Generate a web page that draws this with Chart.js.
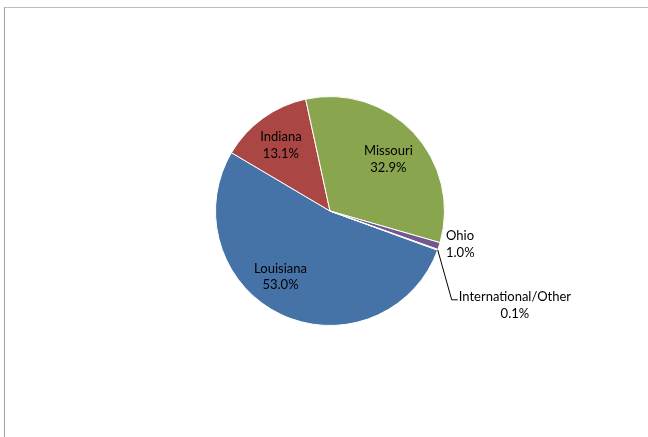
<!DOCTYPE html>
<html>
<head>
<meta charset="utf-8">
<script src="https://cdn.jsdelivr.net/npm/chart.js@4/dist/chart.umd.min.js"></script>
<style>
  html, body { margin: 0; padding: 0; background: #fff; }
  #wrap { width: 648px; height: 437px; position: relative; }
</style>
</head>
<body>
<div id="wrap"><canvas id="c" width="648" height="437"></canvas></div>
<script>
// Share by state
const categories = ['Louisiana', 'Indiana', 'Missouri', 'Ohio', 'International/Other'];
const shares = [53.0, 13.1, 32.9, 1.0, 0.1];
const sliceColors = ['#4572A7', '#AA4643', '#89A54E', '#71588F', '#DB843D'];

// Label placement per slice: inside labels sit along the slice's mid angle,
// the two small slices get labels outside the pie.
const labelLayout = [
  { mode: 'inside', ratio: 0.72, shiftDeg: 11.6 },
  { mode: 'inside', ratio: 0.715, shiftDeg: -1 },
  { mode: 'inside', ratio: 0.68, shiftDeg: 1.7 },
  { mode: 'outside', dx: 7, dy: -2 },
  { mode: 'leader', bend: [14, 50], run: 6 }
];

const FONT = '13px Lato, "Open Sans", sans-serif';
const LINE_H = 16.5;

const frame = {
  id: 'frame',
  beforeDraw(chart) {
    const ctx = chart.ctx;
    ctx.save();
    ctx.lineWidth = 1;
    ctx.strokeStyle = '#BDBDBD';
    ctx.beginPath();
    ctx.moveTo(4, 7.5);
    ctx.lineTo(648, 7.5);
    ctx.stroke();
    ctx.strokeStyle = '#A0A0A0';
    ctx.beginPath();
    ctx.moveTo(4.5, 7);
    ctx.lineTo(4.5, 437);
    ctx.stroke();
    ctx.restore();
  }
};

const sliceLabels = {
  id: 'sliceLabels',
  afterDatasetsDraw(chart) {
    const ctx = chart.ctx;
    const meta = chart.getDatasetMeta(0);
    const total = shares.reduce((a, b) => a + b, 0);
    ctx.save();
    ctx.font = FONT;
    ctx.fillStyle = '#000';
    ctx.textBaseline = 'middle';
    meta.data.forEach((arc, i) => {
      const p = arc.getProps(['x', 'y', 'startAngle', 'endAngle', 'outerRadius'], true);
      const mid = (p.startAngle + p.endAngle) / 2;
      const lines = [categories[i], shares[i].toFixed(1) + '%'];
      const lay = labelLayout[i];
      if (lay.mode === 'inside') {
        const a = mid + lay.shiftDeg * Math.PI / 180;
        const r = p.outerRadius * lay.ratio;
        const cx = p.x + Math.cos(a) * r;
        const cy = p.y + Math.sin(a) * r;
        ctx.textAlign = 'center';
        ctx.fillText(lines[0], cx, cy - LINE_H / 2);
        ctx.fillText(lines[1], cx, cy + LINE_H / 2);
      } else {
        const ex = p.x + Math.cos(mid) * p.outerRadius;
        const ey = p.y + Math.sin(mid) * p.outerRadius;
        if (lay.mode === 'outside') {
          ctx.textAlign = 'left';
          const lx = ex + lay.dx, cy = ey + lay.dy;
          ctx.fillText(lines[0], lx, cy - LINE_H / 2);
          ctx.fillText(lines[1], lx, cy + LINE_H / 2);
        } else {
          const bx = ex + lay.bend[0], by = ey + lay.bend[1];
          const hx = bx + lay.run;
          ctx.strokeStyle = '#000';
          ctx.lineWidth = 1;
          ctx.beginPath();
          ctx.moveTo(ex, ey);
          ctx.lineTo(bx, by);
          ctx.lineTo(hx, by);
          ctx.stroke();
          const w = Math.max(ctx.measureText(lines[0]).width, ctx.measureText(lines[1]).width);
          const cx = hx + 1 + w / 2;
          ctx.textAlign = 'center';
          ctx.fillText(lines[0], cx, by - 3);
          ctx.fillText(lines[1], cx, by - 3 + LINE_H);
        }
      }
    });
    ctx.restore();
  }
};

new Chart(document.getElementById('c'), {
  type: 'pie',
  data: {
    labels: categories,
    datasets: [{
      data: shares,
      backgroundColor: sliceColors,
      borderColor: '#FFFFFF',
      borderWidth: 1
    }]
  },
  options: {
    responsive: false,
    animation: false,
    rotation: 110,
    layout: { padding: { left: 215, right: 203, top: 96, bottom: 111 } },
    plugins: {
      legend: { display: false },
      tooltip: { enabled: false }
    }
  },
  plugins: [frame, sliceLabels]
});
</script>
</body>
</html>
